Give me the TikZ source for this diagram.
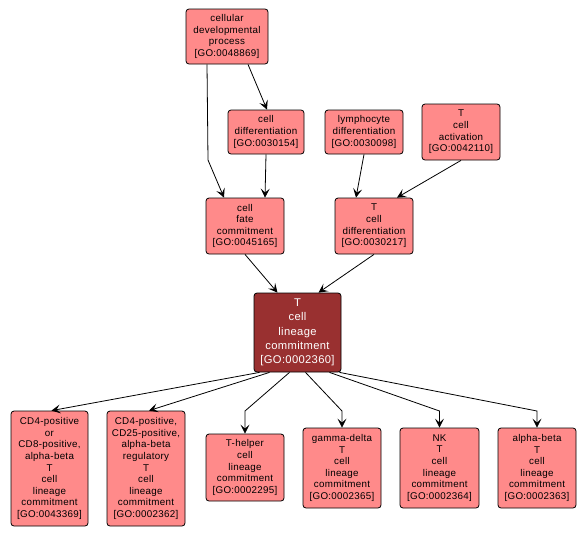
\documentclass[tikz,border=0pt]{standalone}
\usepackage{fontspec}
\setmainfont{Liberation Sans}
\newfontfamily\gofont[LetterSpace=3]{Liberation Sans}
\usetikzlibrary{arrows.meta}
\definecolor{goFill}{RGB}{255,138,138}
\definecolor{goDark}{RGB}{153,48,48}
\tikzset{
  x=1pt, y=-1pt,
  gonode/.style={draw=black, line width=0.8pt, rounded corners=3pt, fill=goFill,
    align=center, inner sep=0pt, font=\gofont\fontsize{9.8}{11.6}\selectfont},
  gomain/.style={gonode, fill=goDark, text=white, font=\gofont\fontsize{11.2}{14.3}\selectfont},
  goedge/.style={draw=black, line width=0.8pt, -{Stealth[length=9pt,width=9pt,inset=4pt]}}
}
\begin{document}
\begin{tikzpicture}
\useasboundingbox (0,0) rectangle (588,536);
\fill[white] (0,0) rectangle (588,536);
% top rows
\node[gonode, minimum width=82, minimum height=55] (cdp) at (227,36.5) {cellular\\developmental\\process\\{[}GO:0048869{]}};
\node[gonode, minimum width=76, minimum height=44] (cdiff) at (266,132) {cell\\differentiation\\{[}GO:0030154{]}};
\node[gonode, minimum width=78, minimum height=44] (lymph) at (364,132) {lymphocyte\\differentiation\\{[}GO:0030098{]}};
\node[gonode, minimum width=78, minimum height=56] (tca) at (461,132) {T\\cell\\activation\\{[}GO:0042110{]}};
\node[gonode, minimum width=78, minimum height=56] (cfc) at (245,226) {cell\\fate\\commitment\\{[}GO:0045165{]}};
\node[gonode, minimum width=78, minimum height=56] (tcd) at (374,226) {T\\cell\\differentiation\\{[}GO:0030217{]}};
\node[gomain, minimum width=87, minimum height=79] (tlc) at (297.5,332.5) {T\\cell\\lineage\\commitment\\{[}GO:0002360{]}};
% bottom row
\node[gonode, minimum width=77, minimum height=115] (cd48) at (49.5,468.5) {CD4-positive\\or\\CD8-positive,\\alpha-beta\\T\\cell\\lineage\\commitment\\{[}GO:0043369{]}};
\node[gonode, minimum width=78, minimum height=115] (cd25) at (146,468.5) {CD4-positive,\\CD25-positive,\\alpha-beta\\regulatory\\T\\cell\\lineage\\commitment\\{[}GO:0002362{]}};
\node[gonode, minimum width=78, minimum height=67] (th) at (245,467.5) {T-helper\\cell\\lineage\\commitment\\{[}GO:0002295{]}};
\node[gonode, minimum width=78, minimum height=80] (gd) at (342,468) {gamma-delta\\T\\cell\\lineage\\commitment\\{[}GO:0002365{]}};
\node[gonode, minimum width=79, minimum height=80] (nk) at (439.5,468) {NK\\T\\cell\\lineage\\commitment\\{[}GO:0002364{]}};
\node[gonode, minimum width=78, minimum height=80] (ab) at (537,468) {alpha-beta\\T\\cell\\lineage\\commitment\\{[}GO:0002363{]}};
% bend points
\coordinate (b1) at (208,160);
\coordinate (b2) at (245,411);
\coordinate (b3) at (342,411);
\coordinate (b4) at (439.5,411);
\coordinate (b5) at (537,411);
% edges
\draw[goedge] ([xshift=21]cdp.south) -- ([xshift=1]cdiff.north);
\draw[goedge] ([xshift=-20]cdp.south) -- (b1) -- ([xshift=-21]cfc.north);
\draw[goedge] (cdiff.south) -- ([xshift=20]cfc.north);
\draw[goedge] (lymph.south) -- ([xshift=-18]tcd.north);
\draw[goedge] (tca.south) -- ([xshift=23]tcd.north);
\draw[goedge] (cfc.south) -- ([xshift=-20]tlc.north);
\draw[goedge] (tcd.south) -- ([xshift=21]tlc.north);
\draw[goedge] ([xshift=-38]tlc.south) -- ([xshift=2]cd48.north);
\draw[goedge] ([xshift=-28]tlc.south) -- ([xshift=3]cd25.north);
\draw[goedge] ([xshift=-8]tlc.south) -- (b2) -- (th.north);
\draw[goedge] ([xshift=8]tlc.south) -- (b3) -- (gd.north);
\draw[goedge] ([xshift=32]tlc.south) -- (b4) -- (nk.north);
\draw[goedge] ([xshift=42]tlc.south) -- (b5) -- (ab.north);
\end{tikzpicture}
\end{document}
